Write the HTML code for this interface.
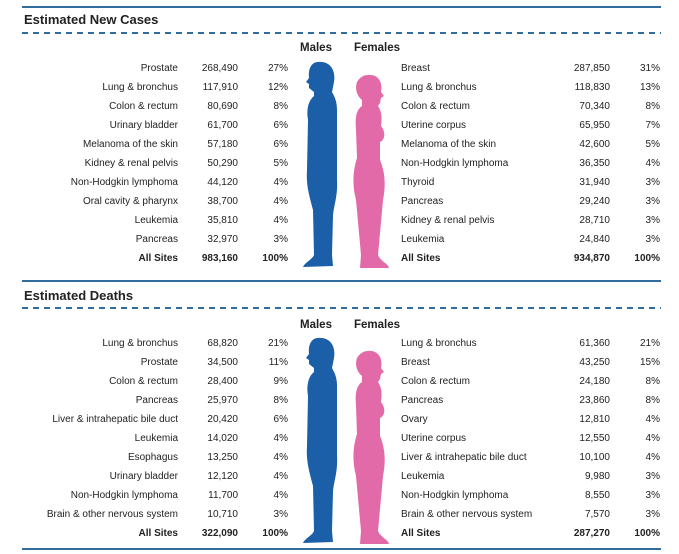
<!DOCTYPE html><html><head><style>
body{margin:0;width:679px;height:554px;background:#fff;font-family:"Liberation Sans",sans-serif;color:#222;position:relative;overflow:hidden}
.ln{position:absolute;left:22px;width:639px;height:2px;background:#2f6d9c}
.ds{position:absolute;left:22px;width:639px;height:1.5px;background:repeating-linear-gradient(90deg,#2f6d9c 0 6px,transparent 6px 11px)}
.t{position:absolute;left:24px;font-weight:bold;font-size:13px;color:#222}
.h{position:absolute;font-weight:bold;font-size:11.5px}
.r{position:absolute;left:0;width:679px;height:14px;font-size:10px;line-height:14px}
.r span{position:absolute;white-space:nowrap}
.a{left:0;width:178px;text-align:right}.b{left:180px;width:58px;text-align:right}.c{left:240px;width:48px;text-align:right}
.d{left:401px}.e{left:540px;width:70px;text-align:right}.f{left:612px;width:48px;text-align:right}
.B{font-weight:bold}
</style></head><body>
<div class="ln" style="top:6px"></div>
<div class="t" style="top:12px">Estimated New Cases</div>
<div class="ds" style="top:32px"></div>
<div class="h" style="left:300px;top:42px">Males</div><div class="h" style="left:354px;top:42px">Females</div>
<div class="r" style="top:62px"><span class="a">Prostate</span><span class="b">268,490</span><span class="c">27%</span><span class="d">Breast</span><span class="e">287,850</span><span class="f">31%</span></div>
<div class="r" style="top:81px"><span class="a">Lung &amp; bronchus</span><span class="b">117,910</span><span class="c">12%</span><span class="d">Lung &amp; bronchus</span><span class="e">118,830</span><span class="f">13%</span></div>
<div class="r" style="top:100px"><span class="a">Colon &amp; rectum</span><span class="b">80,690</span><span class="c">8%</span><span class="d">Colon &amp; rectum</span><span class="e">70,340</span><span class="f">8%</span></div>
<div class="r" style="top:119px"><span class="a">Urinary bladder</span><span class="b">61,700</span><span class="c">6%</span><span class="d">Uterine corpus</span><span class="e">65,950</span><span class="f">7%</span></div>
<div class="r" style="top:138px"><span class="a">Melanoma of the skin</span><span class="b">57,180</span><span class="c">6%</span><span class="d">Melanoma of the skin</span><span class="e">42,600</span><span class="f">5%</span></div>
<div class="r" style="top:157px"><span class="a">Kidney &amp; renal pelvis</span><span class="b">50,290</span><span class="c">5%</span><span class="d">Non-Hodgkin lymphoma</span><span class="e">36,350</span><span class="f">4%</span></div>
<div class="r" style="top:176px"><span class="a">Non-Hodgkin lymphoma</span><span class="b">44,120</span><span class="c">4%</span><span class="d">Thyroid</span><span class="e">31,940</span><span class="f">3%</span></div>
<div class="r" style="top:195px"><span class="a">Oral cavity &amp; pharynx</span><span class="b">38,700</span><span class="c">4%</span><span class="d">Pancreas</span><span class="e">29,240</span><span class="f">3%</span></div>
<div class="r" style="top:214px"><span class="a">Leukemia</span><span class="b">35,810</span><span class="c">4%</span><span class="d">Kidney &amp; renal pelvis</span><span class="e">28,710</span><span class="f">3%</span></div>
<div class="r" style="top:233px"><span class="a">Pancreas</span><span class="b">32,970</span><span class="c">3%</span><span class="d">Leukemia</span><span class="e">24,840</span><span class="f">3%</span></div>
<div class="r B" style="top:252px"><span class="a">All Sites</span><span class="b">983,160</span><span class="c">100%</span><span class="d">All Sites</span><span class="e">934,870</span><span class="f">100%</span></div>

<div class="ln" style="top:280px"></div>
<div class="t" style="top:288px">Estimated Deaths</div>
<div class="ds" style="top:307px"></div>
<div class="h" style="left:300px;top:319px">Males</div><div class="h" style="left:354px;top:319px">Females</div>
<div class="r" style="top:337px"><span class="a">Lung &amp; bronchus</span><span class="b">68,820</span><span class="c">21%</span><span class="d">Lung &amp; bronchus</span><span class="e">61,360</span><span class="f">21%</span></div>
<div class="r" style="top:356px"><span class="a">Prostate</span><span class="b">34,500</span><span class="c">11%</span><span class="d">Breast</span><span class="e">43,250</span><span class="f">15%</span></div>
<div class="r" style="top:375px"><span class="a">Colon &amp; rectum</span><span class="b">28,400</span><span class="c">9%</span><span class="d">Colon &amp; rectum</span><span class="e">24,180</span><span class="f">8%</span></div>
<div class="r" style="top:394px"><span class="a">Pancreas</span><span class="b">25,970</span><span class="c">8%</span><span class="d">Pancreas</span><span class="e">23,860</span><span class="f">8%</span></div>
<div class="r" style="top:413px"><span class="a">Liver &amp; intrahepatic bile duct</span><span class="b">20,420</span><span class="c">6%</span><span class="d">Ovary</span><span class="e">12,810</span><span class="f">4%</span></div>
<div class="r" style="top:432px"><span class="a">Leukemia</span><span class="b">14,020</span><span class="c">4%</span><span class="d">Uterine corpus</span><span class="e">12,550</span><span class="f">4%</span></div>
<div class="r" style="top:451px"><span class="a">Esophagus</span><span class="b">13,250</span><span class="c">4%</span><span class="d">Liver &amp; intrahepatic bile duct</span><span class="e">10,100</span><span class="f">4%</span></div>
<div class="r" style="top:470px"><span class="a">Urinary bladder</span><span class="b">12,120</span><span class="c">4%</span><span class="d">Leukemia</span><span class="e">9,980</span><span class="f">3%</span></div>
<div class="r" style="top:489px"><span class="a">Non-Hodgkin lymphoma</span><span class="b">11,700</span><span class="c">4%</span><span class="d">Non-Hodgkin lymphoma</span><span class="e">8,550</span><span class="f">3%</span></div>
<div class="r" style="top:508px"><span class="a">Brain &amp; other nervous system</span><span class="b">10,710</span><span class="c">3%</span><span class="d">Brain &amp; other nervous system</span><span class="e">7,570</span><span class="f">3%</span></div>
<div class="r B" style="top:527px"><span class="a">All Sites</span><span class="b">322,090</span><span class="c">100%</span><span class="d">All Sites</span><span class="e">287,270</span><span class="f">100%</span></div>
<div class="ln" style="top:548px"></div>

<svg width="679" height="554" style="position:absolute;left:0;top:0">
<defs>
<path id="m" d="M318,62 C330,61 336,70 334,82 L332,92 C334,96 337,100 337,110 L337,180 C338,195 334,205 333,215 L332,255 L333,266 L303,267 C305,262 312,260 314,255 L313,210 C309,195 306,185 307,170 L308,120 C306,108 309,100 314,96 L314,92 L309,88 L309,84 L306,82 L309,78 C308,68 312,62 318,62 Z"/>
<path id="f" d="M368,75 C378,74 383,82 381,92 L384,96 L381,98 L380,103 L378,106 C382,112 382,118 381,126 C386,132 385,140 380,142 L380,160 C385,172 386,185 383,200 L378,255 C381,262 388,263 389,268 L360,268 L361,255 L356,200 C352,185 353,170 357,158 L356,130 C355,118 356,110 362,106 L362,100 C356,95 355,88 357,82 C360,77 364,75 368,75 Z"/>
</defs>
<use href="#m" fill="#1a5fa8"/>
<use href="#f" fill="#e36aa9"/>
<use href="#m" fill="#1a5fa8" transform="translate(0,276)"/>
<use href="#f" fill="#e36aa9" transform="translate(0,276)"/>
</svg>
</body></html>
